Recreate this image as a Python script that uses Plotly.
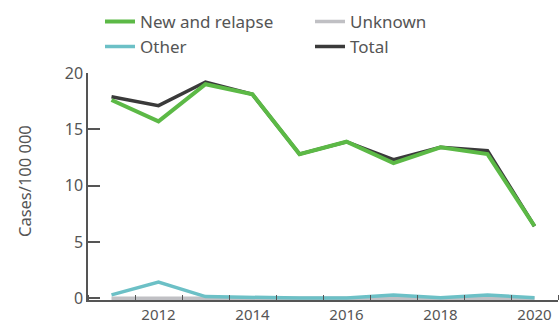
import plotly.graph_objects as go

years = [2011, 2012, 2013, 2014, 2015, 2016, 2017, 2018, 2019, 2020]
new_relapse = [17.6, 15.7, 19.0, 18.1, 12.8, 13.9, 12.0, 13.4, 12.8, 6.4]
other = [0.3, 1.45, 0.15, 0.05, 0.02, 0.02, 0.3, 0.05, 0.3, 0.05]
unknown = [0, 0, 0, 0, 0, 0, 0, 0, 0, 0]
total = [17.9, 17.1, 19.2, 18.1, 12.8, 13.9, 12.3, 13.4, 13.1, 6.4]

txt = "#555555"
fnt = "Noto Sans"

fig = go.Figure()
fig.add_trace(go.Scatter(x=years, y=unknown, name="Unknown", mode="lines",
                         line=dict(color="#c0c0c4", width=3.5), legend="legend2", legendrank=1))
fig.add_trace(go.Scatter(x=years, y=total, name="Total", mode="lines",
                         line=dict(color="#3a3a3a", width=3.5), legend="legend2", legendrank=2))
fig.add_trace(go.Scatter(x=years, y=other, name="Other", mode="lines",
                         line=dict(color="#6cc0c6", width=3.5), legend="legend", legendrank=2))
fig.add_trace(go.Scatter(x=years, y=new_relapse, name="New and relapse", mode="lines",
                         line=dict(color="#5cb946", width=4), legend="legend", legendrank=1))

leg = dict(orientation="v", xref="container", yref="container", y=0.988, yanchor="top",
           xanchor="left", font=dict(family=fnt, size=17, color=txt), tracegroupgap=0,
           bgcolor="rgba(0,0,0,0)")
fig.update_layout(
    width=559, height=322,
    margin=dict(l=88, r=1, t=73, b=22, autoexpand=False),
    plot_bgcolor="white", paper_bgcolor="white",
    font=dict(family=fnt, size=15, color=txt),
    showlegend=True,
    legend=dict(leg, x=100 / 559),
    legend2=dict(leg, x=310 / 559),
    xaxis=dict(range=[2010.5, 2020.5], tickvals=[2012, 2014, 2016, 2018, 2020],
               ticks="", showgrid=False, zeroline=False, showline=True, automargin=False,
               linecolor=txt, linewidth=1.5, tickfont=dict(size=15, color=txt),
               minor=dict(ticks="inside", tick0=2010.5, dtick=1, ticklen=5,
                          tickcolor=txt, tickwidth=1, showgrid=False)),
    yaxis=dict(range=[-0.15, 20], tickvals=[0, 5, 10, 15, 20], ticks="inside",
               ticklen=12, tickcolor=txt, tickwidth=1.5, showgrid=False, automargin=False,
               zeroline=False, showline=True, linecolor=txt, linewidth=1.5,
               tickfont=dict(size=16, color=txt), ticksuffix="\u00a0"),
)
# y title as annotation (axis title placement was unreliable with fixed margins)
fig.add_annotation(text="Cases/100 000", textangle=-90, showarrow=False,
                   xref="paper", yref="paper", x=(24 - 88) / 470, y=0.524,
                   xanchor="center", yanchor="middle",
                   font=dict(family=fnt, size=16.5, color=txt))

# the page's default body margin would shift the figure by 8px
fig.write_html("out.html", config={"displayModeBar": False},
               post_script="document.body.style.margin='0';")
